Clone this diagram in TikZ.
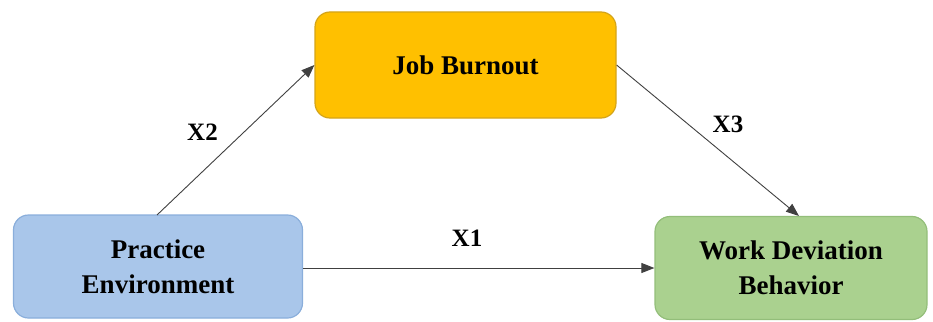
\documentclass[tikz,border=0pt]{standalone}
\usepackage{fontspec}
\setmainfont{Liberation Serif}
\usetikzlibrary{arrows.meta}
\definecolor{peFill}{HTML}{A9C6EA}
\definecolor{peLine}{HTML}{8AAEDB}
\definecolor{jbFill}{HTML}{FFC000}
\definecolor{jbLine}{HTML}{D4A419}
\definecolor{wdFill}{HTML}{AAD18F}
\definecolor{wdLine}{HTML}{93BE7A}
\tikzset{
  box/.style={draw, line width=1.2pt, rounded corners=15pt, align=center,
    font=\fontsize{27}{35}\selectfont\bfseries, inner sep=0pt},
  link/.style={draw=black!75, line width=0.9pt, -{Triangle[length=13pt,width=10pt]}},
  tag/.style={font=\fontsize{25}{28}\selectfont\bfseries}
}
\begin{document}
\begin{tikzpicture}[x=1pt,y=-1pt]
  \useasboundingbox (0,0) rectangle (933,321);
  % boxes
  \node[box, fill=peFill, draw=peLine, minimum width=289pt, minimum height=103pt]
    (pe) at (158,266.5) {Practice\\Environment};
  \node[box, fill=jbFill, draw=jbLine, minimum width=301pt, minimum height=106pt]
    (jb) at (465.5,65) {Job Burnout};
  \node[box, fill=wdFill, draw=wdLine, minimum width=272pt, minimum height=103pt]
    (wd) at (791,268) {Work Deviation\\Behavior};
  % connectors
  \coordinate (peTop) at (157,215);
  \coordinate (wdTop) at (799,216);
  \draw[link] (peTop) -- (jb.west);
  \draw[link] (jb.east) -- (wdTop);
  \draw[link] (pe.east |- wd.west) -- (wd.west);
  % path labels
  \node[tag] (x2) at (202.5,132) {X2};
  \node[tag] (x3) at (728,124) {X3};
  \node[tag] (x1) at (467,238) {X1};
\end{tikzpicture}
\end{document}
